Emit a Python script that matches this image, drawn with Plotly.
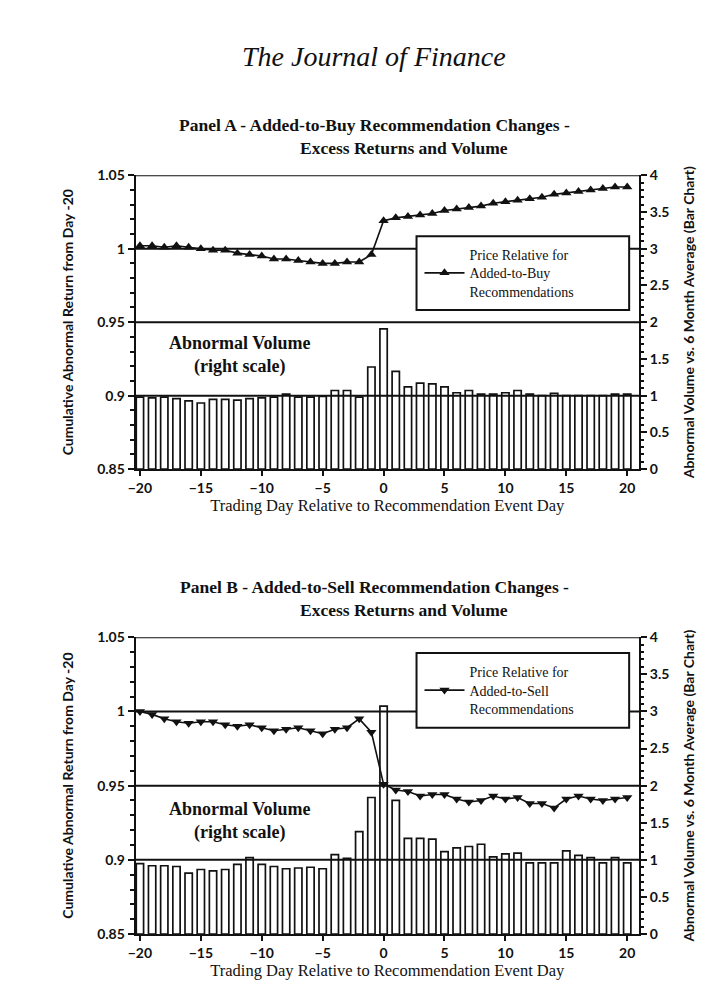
import plotly.graph_objects as go

# ---- data ----
days = list(range(-20, 21))

# Panel A: price relative, added-to-buy (left scale)
buy_price = [1.002, 1.002, 1.001, 1.002, 1.001, 1.000, 0.999, 0.999, 0.997, 0.996,
             0.995, 0.993, 0.993, 0.992, 0.991, 0.990, 0.990, 0.991, 0.991, 0.996,
             1.019, 1.021, 1.022, 1.023, 1.024, 1.026, 1.027, 1.028, 1.029, 1.031,
             1.032, 1.033, 1.034, 1.035, 1.037, 1.038, 1.039, 1.040, 1.041, 1.042,
             1.042]
# Panel A: abnormal volume (right scale)
buy_volume = [0.98, 0.97, 0.98, 0.96, 0.93, 0.90, 0.95, 0.95, 0.94, 0.96,
              0.97, 0.98, 1.02, 0.98, 0.98, 0.99, 1.07, 1.07, 0.98, 1.39,
              1.91, 1.33, 1.12, 1.17, 1.16, 1.12, 1.04, 1.07, 1.02, 1.02,
              1.04, 1.07, 1.02, 1.00, 1.03, 1.00, 1.00, 1.00, 1.00, 1.02,
              1.02]

# Panel B: price relative, added-to-sell (left scale)
sell_price = [1.000, 0.998, 0.995, 0.993, 0.992, 0.993, 0.993, 0.991, 0.990, 0.991,
              0.989, 0.987, 0.988, 0.989, 0.987, 0.985, 0.988, 0.989, 0.995, 0.986,
              0.951, 0.947, 0.946, 0.943, 0.944, 0.944, 0.941, 0.939, 0.940, 0.943,
              0.941, 0.942, 0.938, 0.938, 0.935, 0.941, 0.943, 0.941, 0.940, 0.941,
              0.942]
# Panel B: abnormal volume (right scale)
sell_volume = [0.95, 0.92, 0.92, 0.91, 0.82, 0.87, 0.85, 0.87, 0.94, 1.03,
               0.94, 0.91, 0.88, 0.89, 0.90, 0.88, 1.07, 1.02, 1.38, 1.84,
               3.07, 1.80, 1.29, 1.29, 1.28, 1.11, 1.16, 1.18, 1.21, 1.04,
               1.08, 1.09, 0.96, 0.96, 0.96, 1.12, 1.06, 1.03, 0.96, 1.03,
               0.96]

x_ticks = [-20, -15, -10, -5, 0, 5, 10, 15, 20]
grid_levels = [0.9, 0.95, 1.0, 1.05]

# ---- page geometry (pixels of the 724x994 page) ----
W, H = 724, 994


def fx(p):
    return p / W


def fy(p):
    return 1 - p / H


X_DOM = [fx(121), fx(630)]
PANELS = {
    "A": dict(top=161, bottom=460),
    "B": dict(top=631, bottom=933),
}

SERIF = "Liberation Serif"
SANS = "Lato"
BLACK = "#111111"

fig = go.Figure()

# bars first (base right-hand axis), lines on the overlaying left axis
fig.add_trace(go.Bar(x=days, y=buy_volume, xaxis="x", yaxis="y",
                     width=0.6, marker=dict(color="white", line=dict(color=BLACK, width=1.7)),
                     showlegend=False))
fig.add_trace(go.Scatter(x=days, y=buy_price, xaxis="x", yaxis="y2",
                         mode="lines+markers",
                         line=dict(color=BLACK, width=1.6),
                         marker=dict(symbol="triangle-up", size=9, color=BLACK),
                         name="Price Relative for<br>Added-to-Buy<br>Recommendations",
                         legend="legend"))

fig.add_trace(go.Bar(x=days, y=sell_volume, xaxis="x2", yaxis="y3",
                     width=0.6, marker=dict(color="white", line=dict(color=BLACK, width=1.7)),
                     showlegend=False))
fig.add_trace(go.Scatter(x=days, y=sell_price, xaxis="x2", yaxis="y4",
                         mode="lines+markers",
                         line=dict(color=BLACK, width=1.6),
                         marker=dict(symbol="triangle-down", size=9, color=BLACK),
                         name="Price Relative for<br>Added-to-Sell<br>Recommendations",
                         legend="legend2"))

tick_font = dict(family=SANS, size=14, color=BLACK, weight="bold")
side_title_font = dict(family=SANS, size=14, color=BLACK, weight="bold")


def x_axis(dom_y_anchor):
    return dict(
        domain=X_DOM, anchor=dom_y_anchor, range=[-20.35, 20.97],
        tickvals=x_ticks, ticks="outside", ticklen=5, tickwidth=2, tickcolor=BLACK,
        showline=True, linewidth=2, linecolor=BLACK, showgrid=False, zeroline=False,
        tickfont=tick_font,
        title=dict(text="Trading Day Relative to Recommendation Event Day",
                   font=dict(family=SERIF, size=16.5, color=BLACK), standoff=3),
    )


def right_axis(dom, x_anchor):
    return dict(
        domain=dom, anchor=x_anchor, side="right", range=[0, 4],
        dtick=0.5, ticks="outside", ticklen=6, tickwidth=2, tickcolor=BLACK,
        minor=dict(dtick=0.1, ticks="outside", ticklen=3, tickwidth=1.5, tickcolor=BLACK),
        showline=True, linewidth=2, linecolor=BLACK, showgrid=False, zeroline=False,
        tickfont=tick_font,
        title=dict(text="Abnormal Volume vs. 6 Month Average (Bar Chart)",
                   font=side_title_font, standoff=16),
    )


def left_axis(over, x_anchor):
    return dict(
        overlaying=over, anchor=x_anchor, side="left", range=[0.85, 1.05],
        dtick=0.05, ticks="outside", ticklen=6, tickwidth=2, tickcolor=BLACK,
        minor=dict(dtick=0.01, ticks="outside", ticklen=4, tickwidth=1.5, tickcolor=BLACK),
        showline=True, linewidth=2, linecolor=BLACK, showgrid=False, zeroline=False,
        tickfont=tick_font,
        title=dict(text="Cumulative Abnormal Return from Day -20",
                   font=side_title_font, standoff=20),
    )


domA = [fy(PANELS["A"]["bottom"]), fy(PANELS["A"]["top"])]
domB = [fy(PANELS["B"]["bottom"]), fy(PANELS["B"]["top"])]

shapes = []
# horizontal rules at the major left-scale ticks
for yref, xref in (("y2", "x"), ("y4", "x2")):
    for g in grid_levels:
        shapes.append(dict(type="line", xref=f"{xref} domain", yref=yref,
                           x0=0, x1=1, y0=g, y1=g, layer="above",
                           line=dict(color=BLACK, width=2)))

# legend frames (opaque, they hide the rule behind them)
for top, bottom in ((223, 298), (647, 723)):
    shapes.append(dict(type="rect", xref="paper", yref="paper",
                       x0=fx(405), x1=fx(620), y0=fy(bottom), y1=fy(top), layer="above",
                       fillcolor="white", line=dict(color=BLACK, width=2)))

annotations = [
    dict(text="<i>The Journal of Finance</i>", x=fx(362), y=fy(40),
         font=dict(family=SERIF, size=28, color=BLACK)),
    dict(text="<b>Panel A - Added-to-Buy Recommendation Changes -</b>", x=fx(362), y=fy(110),
         font=dict(family=SERIF, size=17.5, color=BLACK)),
    dict(text="<b>Excess Returns and Volume</b>", x=fx(392), y=fy(133),
         font=dict(family=SERIF, size=17.5, color=BLACK)),
    dict(text="<b>Panel B - Added-to-Sell Recommendation Changes -</b>", x=fx(362), y=fy(580),
         font=dict(family=SERIF, size=17.5, color=BLACK)),
    dict(text="<b>Excess Returns and Volume</b>", x=fx(392), y=fy(603),
         font=dict(family=SERIF, size=17.5, color=BLACK)),
    dict(text="<b>Abnormal Volume<br>(right scale)</b>", x=fx(227), y=fy(344),
         font=dict(family=SERIF, size=18, color=BLACK)),
    dict(text="<b>Abnormal Volume<br>(right scale)</b>", x=fx(227), y=fy(818),
         font=dict(family=SERIF, size=18, color=BLACK)),
]
for a in annotations:
    a.update(xref="paper", yref="paper", showarrow=False, xanchor="center", yanchor="middle")

legend_style = dict(bgcolor="rgba(0,0,0,0)", borderwidth=0, itemwidth=40,
                    valign="middle", xanchor="left", yanchor="middle",
                    font=dict(family=SERIF, size=14, color=BLACK))

fig.update_layout(
    width=W, height=H,
    margin=dict(l=0, r=0, t=0, b=0),
    paper_bgcolor="white", plot_bgcolor="rgba(0,0,0,0)",
    barmode="overlay",
    xaxis=x_axis("y"),
    yaxis=right_axis(domA, "x"),
    yaxis2=left_axis("y", "x"),
    xaxis2=x_axis("y3"),
    yaxis3=right_axis(domB, "x2"),
    yaxis4=left_axis("y3", "x2"),
    legend=dict(x=fx(408), y=fy(260.5), **legend_style),
    legend2=dict(x=fx(408), y=fy(685), **legend_style),
    shapes=shapes,
    annotations=annotations,
)

fig.write_html("out.html")
